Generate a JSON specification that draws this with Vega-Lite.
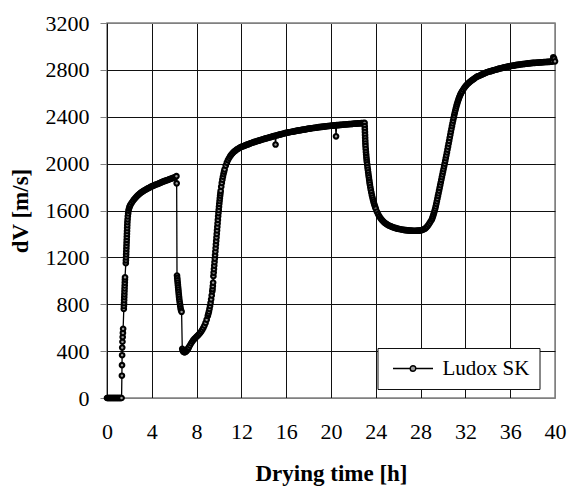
{
  "$schema": "https://vega.github.io/schema/vega-lite/v6.json",
  "width": 448,
  "height": 375,
  "autosize": {"type": "none"},
  "padding": {"left": 107, "top": 23, "right": 13, "bottom": 88},
  "background": "white",
  "config": {
    "font": "Liberation Serif",
    "view": {"stroke": "#808080", "strokeWidth": 1.5},
    "axis": {
      "labelColor": "black",
      "titleFont": "Liberation Serif", "titleFontSize": 23, "titleFontWeight": "bold", "titleColor": "black",
      "gridColor": {"condition": {"test": "datum.value === 0 || datum.value === 3200 || datum.value === 40", "value": "#808080"}, "value": "#111111"},
      "gridWidth": 1, "gridOpacity": 1
    }
  },
  "data": {"values": [
    {"t":0,"v":0},{"t":0.05,"v":0},{"t":0.1,"v":0},{"t":0.15,"v":0},{"t":0.2,"v":0},{"t":0.25,"v":0},{"t":0.3,"v":0},{"t":0.35,"v":0},{"t":0.4,"v":0},{"t":0.45,"v":0},{"t":0.5,"v":0},{"t":0.55,"v":0},{"t":0.6,"v":0},{"t":0.65,"v":0},{"t":0.7,"v":0},{"t":0.75,"v":0},{"t":0.8,"v":0},{"t":0.85,"v":0},{"t":0.9,"v":0},{"t":0.95,"v":0},{"t":1.0,"v":0},{"t":1.05,"v":0},{"t":1.1,"v":0},{"t":1.15,"v":0},{"t":1.2,"v":0},{"t":1.25,"v":0},{"t":1.3,"v":0},
    {"t":1.33,"v":190},{"t":1.34,"v":280},{"t":1.35,"v":365},{"t":1.36,"v":430},{"t":1.38,"v":480},{"t":1.4,"v":520},{"t":1.42,"v":555},{"t":1.44,"v":590},
    {"t":1.5,"v":760},{"t":1.51,"v":785},{"t":1.52,"v":810},{"t":1.53,"v":835},{"t":1.54,"v":860},{"t":1.55,"v":885},{"t":1.56,"v":910},{"t":1.57,"v":935},{"t":1.58,"v":960},{"t":1.59,"v":985},{"t":1.6,"v":1010},{"t":1.61,"v":1030},
    {"t":1.68,"v":1150},{"t":1.69,"v":1175},{"t":1.7,"v":1200},{"t":1.71,"v":1225},{"t":1.72,"v":1250},{"t":1.73,"v":1275},{"t":1.74,"v":1300},{"t":1.75,"v":1325},{"t":1.76,"v":1350},{"t":1.77,"v":1375},{"t":1.78,"v":1400},{"t":1.79,"v":1425},{"t":1.8,"v":1450},{"t":1.81,"v":1475},{"t":1.82,"v":1500},{"t":1.84,"v":1525},{"t":1.86,"v":1550},{"t":1.89,"v":1575},{"t":1.92,"v":1598},{"t":1.96,"v":1615},{"t":2.0,"v":1628},{"t":2.05,"v":1640},{"t":2.1,"v":1650},{"t":2.2,"v":1665},{"t":2.3,"v":1679},
    {"t":2.4,"v":1692},{"t":2.5,"v":1704},{"t":2.6,"v":1715},{"t":2.7,"v":1725},{"t":2.8,"v":1734},{"t":2.9,"v":1742},{"t":3.0,"v":1750},{"t":3.1,"v":1757},{"t":3.2,"v":1763},{"t":3.3,"v":1769},{"t":3.4,"v":1775},{"t":3.5,"v":1781},{"t":3.6,"v":1786},{"t":3.7,"v":1791},{"t":3.8,"v":1796},{"t":3.9,"v":1801},{"t":4.0,"v":1806},{"t":4.1,"v":1810},{"t":4.2,"v":1814},{"t":4.3,"v":1818},{"t":4.4,"v":1822},{"t":4.5,"v":1826},{"t":4.6,"v":1830},{"t":4.7,"v":1834},{"t":4.8,"v":1838},{"t":4.9,"v":1842},{"t":5.0,"v":1846},{"t":5.1,"v":1850},{"t":5.2,"v":1853},{"t":5.3,"v":1857},{"t":5.4,"v":1860},{"t":5.5,"v":1864},{"t":5.6,"v":1867},{"t":5.7,"v":1871},{"t":5.8,"v":1874},{"t":5.9,"v":1878},{"t":6.0,"v":1881},{"t":6.1,"v":1885},{"t":6.2,"v":1893},{"t":6.22,"v":1832},
    {"t":6.25,"v":1045},{"t":6.27,"v":1025},{"t":6.29,"v":1005},{"t":6.31,"v":985},{"t":6.33,"v":965},{"t":6.35,"v":945},{"t":6.37,"v":925},{"t":6.39,"v":905},{"t":6.41,"v":885},{"t":6.43,"v":865},{"t":6.45,"v":845},{"t":6.48,"v":825},{"t":6.51,"v":805},{"t":6.54,"v":785},{"t":6.57,"v":765},{"t":6.61,"v":748},{"t":6.66,"v":735},
    {"t":6.72,"v":420},{"t":6.76,"v":405},{"t":6.8,"v":398},{"t":6.85,"v":394},{"t":6.9,"v":392},{"t":6.95,"v":392},{"t":7.0,"v":394},{"t":7.05,"v":397},{"t":7.1,"v":402},{"t":7.15,"v":408},{"t":7.2,"v":415},{"t":7.25,"v":423},{"t":7.3,"v":432},{"t":7.4,"v":448},{"t":7.5,"v":465},{"t":7.6,"v":480},{"t":7.7,"v":493},{"t":7.8,"v":504},{"t":7.9,"v":514},{"t":8.0,"v":523},{"t":8.1,"v":532},{"t":8.2,"v":542},{"t":8.3,"v":553},{"t":8.4,"v":566},{"t":8.5,"v":581},{"t":8.6,"v":598},{"t":8.7,"v":618},{"t":8.8,"v":641},{"t":8.9,"v":668},{"t":9.0,"v":700},{"t":9.05,"v":718},{"t":9.1,"v":738},{"t":9.15,"v":760},{"t":9.2,"v":785},{"t":9.25,"v":812},{"t":9.3,"v":842},{"t":9.35,"v":875},{"t":9.4,"v":910},{"t":9.425,"v":930},{"t":9.45,"v":955},{"t":9.475,"v":985},{"t":9.5,"v":1040},{"t":9.525,"v":1070},{"t":9.55,"v":1100},{"t":9.575,"v":1130},{"t":9.6,"v":1160},{"t":9.625,"v":1190},{"t":9.65,"v":1220},{"t":9.675,"v":1250},{"t":9.7,"v":1280},{"t":9.725,"v":1310},{"t":9.75,"v":1340},{"t":9.775,"v":1370},{"t":9.8,"v":1400},{"t":9.825,"v":1430},{"t":9.85,"v":1460},{"t":9.875,"v":1490},{"t":9.9,"v":1520},{"t":9.925,"v":1550},{"t":9.95,"v":1578},{"t":9.975,"v":1605},{"t":10.0,"v":1632},{"t":10.025,"v":1657},{"t":10.05,"v":1681},{"t":10.075,"v":1704},{"t":10.1,"v":1726},{"t":10.125,"v":1747},{"t":10.15,"v":1767},{"t":10.2,"v":1803},{"t":10.25,"v":1835},{"t":10.3,"v":1863},{"t":10.35,"v":1888},{"t":10.4,"v":1911},{"t":10.45,"v":1931},{"t":10.5,"v":1950},{"t":10.6,"v":1982},{"t":10.7,"v":2008},{"t":10.8,"v":2030},{"t":10.9,"v":2048},{"t":11.0,"v":2064},{"t":11.1,"v":2077},{"t":11.2,"v":2088},{"t":11.3,"v":2098},{"t":11.4,"v":2106},{"t":11.5,"v":2114},{"t":11.6,"v":2121},{"t":11.7,"v":2127},{"t":11.8,"v":2133},{"t":11.9,"v":2138},{"t":12.0,"v":2143},
    {"t":12.1,"v":2147},{"t":12.2,"v":2150},{"t":12.3,"v":2154},{"t":12.4,"v":2158},{"t":12.5,"v":2162},{"t":12.6,"v":2165},{"t":12.7,"v":2169},{"t":12.8,"v":2173},{"t":12.9,"v":2176},{"t":13.0,"v":2180},
    {"t":13.1,"v":2183},{"t":13.2,"v":2186},{"t":13.3,"v":2189},{"t":13.4,"v":2192},{"t":13.5,"v":2195},{"t":13.6,"v":2198},{"t":13.7,"v":2201},{"t":13.8,"v":2204},{"t":13.9,"v":2207},{"t":14.0,"v":2210},
    {"t":14.1,"v":2213},{"t":14.2,"v":2215},{"t":14.3,"v":2218},{"t":14.4,"v":2221},{"t":14.5,"v":2224},{"t":14.6,"v":2226},{"t":14.7,"v":2229},{"t":14.8,"v":2232},{"t":14.9,"v":2234},{"t":15.0,"v":2237},{"t":15.05,"v":2163},
    {"t":15.1,"v":2240},{"t":15.2,"v":2242},{"t":15.3,"v":2245},{"t":15.4,"v":2247},{"t":15.5,"v":2250},{"t":15.6,"v":2252},{"t":15.7,"v":2255},{"t":15.8,"v":2257},{"t":15.9,"v":2260},{"t":16.0,"v":2262},
    {"t":16.1,"v":2264},{"t":16.2,"v":2266},{"t":16.3,"v":2268},{"t":16.4,"v":2270},{"t":16.5,"v":2272},{"t":16.6,"v":2273},{"t":16.7,"v":2275},{"t":16.8,"v":2277},{"t":16.9,"v":2279},{"t":17.0,"v":2281},
    {"t":17.1,"v":2283},{"t":17.2,"v":2284},{"t":17.3,"v":2286},{"t":17.4,"v":2288},{"t":17.5,"v":2290},{"t":17.6,"v":2291},{"t":17.7,"v":2293},{"t":17.8,"v":2295},{"t":17.9,"v":2296},{"t":18.0,"v":2298},
    {"t":18.1,"v":2299},{"t":18.2,"v":2301},{"t":18.3,"v":2302},{"t":18.4,"v":2304},{"t":18.5,"v":2305},{"t":18.6,"v":2306},{"t":18.7,"v":2308},{"t":18.8,"v":2309},{"t":18.9,"v":2311},{"t":19.0,"v":2312},
    {"t":19.1,"v":2313},{"t":19.2,"v":2314},{"t":19.3,"v":2315},{"t":19.4,"v":2316},{"t":19.5,"v":2318},{"t":19.6,"v":2319},{"t":19.7,"v":2320},{"t":19.8,"v":2321},{"t":19.9,"v":2322},{"t":20.0,"v":2323},
    {"t":20.1,"v":2324},{"t":20.2,"v":2325},{"t":20.3,"v":2326},{"t":20.4,"v":2327},{"t":20.45,"v":2233},{"t":20.5,"v":2328},{"t":20.6,"v":2328},{"t":20.7,"v":2329},{"t":20.8,"v":2330},{"t":20.9,"v":2331},{"t":21.0,"v":2332},
    {"t":21.1,"v":2333},{"t":21.2,"v":2334},{"t":21.3,"v":2334},{"t":21.4,"v":2335},{"t":21.5,"v":2336},{"t":21.6,"v":2337},{"t":21.7,"v":2338},{"t":21.8,"v":2338},{"t":21.9,"v":2339},{"t":22.0,"v":2340},
    {"t":22.1,"v":2341},{"t":22.2,"v":2341},{"t":22.3,"v":2342},{"t":22.4,"v":2343},{"t":22.5,"v":2343},{"t":22.6,"v":2344},{"t":22.7,"v":2345},{"t":22.8,"v":2346},{"t":22.9,"v":2346},{"t":23.0,"v":2347},
    {"t":23.01,"v":2320},{"t":23.02,"v":2295},{"t":23.03,"v":2270},{"t":23.04,"v":2245},{"t":23.05,"v":2220},{"t":23.06,"v":2196},{"t":23.07,"v":2172},{"t":23.08,"v":2150},{"t":23.1,"v":2125},{"t":23.12,"v":2100},{"t":23.14,"v":2077},{"t":23.16,"v":2055},{"t":23.18,"v":2035},{"t":23.2,"v":2015},{"t":23.23,"v":1993},{"t":23.26,"v":1970},{"t":23.29,"v":1948},{"t":23.32,"v":1926},{"t":23.35,"v":1904},{"t":23.38,"v":1883},{"t":23.41,"v":1862},{"t":23.44,"v":1842},{"t":23.47,"v":1822},{"t":23.51,"v":1800},{"t":23.55,"v":1778},{"t":23.6,"v":1754},{"t":23.65,"v":1731},{"t":23.7,"v":1710},{"t":23.75,"v":1691},{"t":23.8,"v":1673},{"t":23.85,"v":1657},{"t":23.9,"v":1642},{"t":23.95,"v":1628},{"t":24.0,"v":1615},
    {"t":24.1,"v":1590},{"t":24.2,"v":1570},{"t":24.3,"v":1552},{"t":24.4,"v":1537},{"t":24.5,"v":1524},{"t":24.6,"v":1513},{"t":24.7,"v":1503},{"t":24.8,"v":1495},{"t":24.9,"v":1488},{"t":25.0,"v":1481},{"t":25.1,"v":1475},{"t":25.2,"v":1470},{"t":25.3,"v":1466},{"t":25.4,"v":1462},{"t":25.5,"v":1458},{"t":25.6,"v":1455},{"t":25.7,"v":1452},{"t":25.8,"v":1449},{"t":25.9,"v":1446},{"t":26.0,"v":1444},{"t":26.1,"v":1442},{"t":26.2,"v":1440},{"t":26.3,"v":1438},{"t":26.4,"v":1436},{"t":26.5,"v":1434},{"t":26.6,"v":1433},{"t":26.7,"v":1432},{"t":26.8,"v":1431},{"t":26.9,"v":1430},{"t":27.0,"v":1429},{"t":27.1,"v":1428},{"t":27.2,"v":1428},{"t":27.3,"v":1427},{"t":27.4,"v":1427},{"t":27.5,"v":1427},{"t":27.6,"v":1427},{"t":27.7,"v":1428},{"t":27.8,"v":1428},{"t":27.9,"v":1429},{"t":28.0,"v":1431},{"t":28.1,"v":1433},{"t":28.2,"v":1436},{"t":28.3,"v":1440},{"t":28.4,"v":1446},{"t":28.5,"v":1454},{"t":28.6,"v":1464},{"t":28.7,"v":1477},{"t":28.8,"v":1492},{"t":28.9,"v":1508},
    {"t":29.0,"v":1522},{"t":29.05,"v":1535},{"t":29.1,"v":1549},{"t":29.15,"v":1564},{"t":29.2,"v":1580},{"t":29.25,"v":1597},{"t":29.3,"v":1615},{"t":29.35,"v":1635},{"t":29.4,"v":1656},{"t":29.45,"v":1678},{"t":29.5,"v":1701},{"t":29.55,"v":1724},{"t":29.6,"v":1747},{"t":29.65,"v":1770},{"t":29.7,"v":1793},{"t":29.75,"v":1816},{"t":29.8,"v":1839},{"t":29.85,"v":1862},{"t":29.9,"v":1885},{"t":29.95,"v":1908},{"t":30.0,"v":1931},{"t":30.05,"v":1954},{"t":30.1,"v":1977},{"t":30.15,"v":2000},{"t":30.2,"v":2023},{"t":30.25,"v":2047},{"t":30.3,"v":2071},{"t":30.35,"v":2095},{"t":30.4,"v":2120},{"t":30.45,"v":2145},{"t":30.5,"v":2170},{"t":30.55,"v":2195},{"t":30.6,"v":2220},{"t":30.65,"v":2245},{"t":30.7,"v":2270},{"t":30.75,"v":2295},{"t":30.8,"v":2320},{"t":30.85,"v":2344},{"t":30.9,"v":2367},{"t":30.95,"v":2390},{"t":31.0,"v":2412},{"t":31.05,"v":2433},{"t":31.1,"v":2453},{"t":31.15,"v":2472},{"t":31.2,"v":2490},{"t":31.25,"v":2507},{"t":31.3,"v":2523},{"t":31.35,"v":2538},{"t":31.4,"v":2552},{"t":31.45,"v":2565},{"t":31.5,"v":2577},{"t":31.55,"v":2588},{"t":31.6,"v":2598},{"t":31.65,"v":2607},{"t":31.7,"v":2616},{"t":31.8,"v":2632},{"t":31.9,"v":2646},{"t":32.0,"v":2659},{"t":32.1,"v":2670},{"t":32.2,"v":2680},{"t":32.3,"v":2689},{"t":32.4,"v":2697},{"t":32.5,"v":2705},{"t":32.6,"v":2712},{"t":32.7,"v":2719},{"t":32.8,"v":2726},{"t":32.9,"v":2733},
    {"t":33.0,"v":2740},{"t":33.1,"v":2744},{"t":33.2,"v":2748},{"t":33.3,"v":2752},{"t":33.4,"v":2757},{"t":33.5,"v":2761},{"t":33.6,"v":2765},{"t":33.7,"v":2769},{"t":33.8,"v":2774},{"t":33.9,"v":2778},{"t":34.0,"v":2782},
    {"t":34.1,"v":2785},{"t":34.2,"v":2788},{"t":34.3,"v":2790},{"t":34.4,"v":2793},{"t":34.5,"v":2796},{"t":34.6,"v":2799},{"t":34.7,"v":2801},{"t":34.8,"v":2804},{"t":34.9,"v":2807},{"t":35.0,"v":2810},
    {"t":35.1,"v":2812},{"t":35.2,"v":2814},{"t":35.3,"v":2817},{"t":35.4,"v":2819},{"t":35.5,"v":2821},{"t":35.6,"v":2823},{"t":35.7,"v":2825},{"t":35.8,"v":2828},{"t":35.9,"v":2830},{"t":36.0,"v":2832},
    {"t":36.1,"v":2834},{"t":36.2,"v":2835},{"t":36.3,"v":2837},{"t":36.4,"v":2838},{"t":36.5,"v":2840},{"t":36.6,"v":2842},{"t":36.7,"v":2843},{"t":36.8,"v":2845},{"t":36.9,"v":2846},{"t":37.0,"v":2848},
    {"t":37.1,"v":2849},{"t":37.2,"v":2850},{"t":37.3,"v":2851},{"t":37.4,"v":2852},{"t":37.5,"v":2854},{"t":37.6,"v":2855},{"t":37.7,"v":2856},{"t":37.8,"v":2857},{"t":37.9,"v":2858},{"t":38.0,"v":2859},
    {"t":38.1,"v":2860},{"t":38.2,"v":2860},{"t":38.3,"v":2861},{"t":38.4,"v":2862},{"t":38.5,"v":2862},{"t":38.6,"v":2863},{"t":38.7,"v":2864},{"t":38.8,"v":2864},{"t":38.9,"v":2865},{"t":39.0,"v":2866},
    {"t":39.1,"v":2867},{"t":39.2,"v":2867},{"t":39.3,"v":2868},{"t":39.4,"v":2869},{"t":39.5,"v":2869},{"t":39.6,"v":2870},{"t":39.7,"v":2871},{"t":39.8,"v":2872},{"t":39.85,"v":2908},{"t":39.92,"v":2896},{"t":40.0,"v":2873}
  ]},
  "encoding": {
    "x": {
      "field": "t", "type": "quantitative",
      "scale": {"domain": [0, 40], "nice": false},
      "axis": {
        "title": "Drying time [h]", "values": [0,4,8,12,16,20,24,28,32,36,40], "format": "d",
        "labelFont": "Liberation Serif", "labelFontSize": 22, "labelFontWeight": "normal",
        "tickSize": 0, "ticks": false, "domain": false, "labelPadding": 23, "titlePadding": 20,
        "labelFlush": false, "labelOverlap": false
      }
    },
    "y": {
      "field": "v", "type": "quantitative",
      "scale": {"domain": [0, 3200], "nice": false},
      "axis": {
        "title": "dV [m/s]", "values": [0,400,800,1200,1600,2000,2400,2800,3200], "format": "d",
        "labelFont": "Liberation Serif", "labelFontSize": 22, "labelFontWeight": "normal",
        "tickSize": 7, "tickColor": "#808080", "tickWidth": 1,
        "domain": true, "domainColor": "#111111", "domainWidth": 1,
        "labelPadding": 11, "titlePadding": 13, "labelFlush": false, "labelOverlap": false
      }
    }
  },
  "layer": [
    {"mark": {"type": "line", "color": "black", "strokeWidth": 1.3}},
    {
      "mark": {"type": "point", "filled": true, "fill": "#9a9a9a", "strokeWidth": 2.1, "size": 21, "opacity": 1, "strokeOpacity": 1, "fillOpacity": 1},
      "encoding": {
        "stroke": {
          "datum": "Ludox SK",
          "scale": {"range": ["black"]},
          "legend": {
            "orient": "none", "legendX": 270.5, "legendY": 325,
            "title": null,
            "symbolType": "M-1,0L2.44,0M3.56,0L7,0M2.44,0A0.56,0.56 0 1,1 3.56,0A0.56,0.56 0 1,1 2.44,0Z",
            "symbolSize": 100,
            "symbolStrokeWidth": 1.4, "symbolFillColor": "#9a9a9a", "symbolStrokeColor": "black",
            "labelFont": "Liberation Serif", "labelFontSize": 21, "labelFontWeight": "normal", "labelColor": "black",
            "labelOffset": 34, "padding": 10,
            "strokeColor": "#111111", "fillColor": "white"
          }
        }
      }
    }
  ]
}
